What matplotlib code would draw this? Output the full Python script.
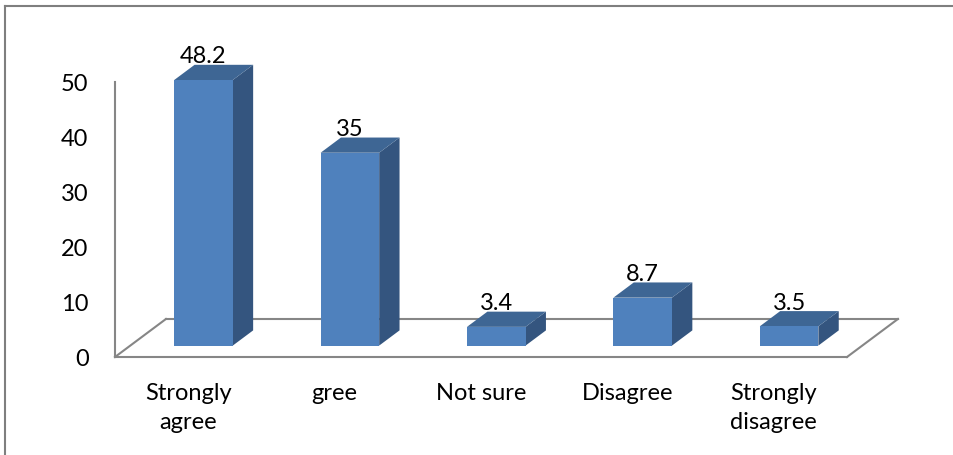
import matplotlib
matplotlib.use("Agg")
import matplotlib.pyplot as plt
from matplotlib.patches import Polygon
from matplotlib.lines import Line2D

categories = ["Strongly\nagree", "gree", "Not sure", "Disagree", "Strongly\ndisagree"]
values = [48.2, 35, 3.4, 8.7, 3.5]
value_labels = ["48.2", "35", "3.4", "8.7", "3.5"]
yticks = [0, 10, 20, 30, 40, 50]

plt.rcParams['font.family'] = ['Lato', 'DejaVu Sans']

front_col = "#4f81bd"
top_col = "#3e6694"
side_col = "#34557f"
grid_col = "#868686"

# depth of the floor in data units (x: categories, y: values)
DX, DY = 0.348, 6.9
bw = 0.4            # bar width (fraction of slot)
d0, d1 = 0.3, 0.7   # bar depth range (fraction of floor depth)

fig = plt.figure(figsize=(9.54, 4.56), dpi=100)
ax = fig.add_axes([115 / 954, 98 / 456, 732 / 954, 275.5 / 456])
ax.set_xlim(-0.5, len(values) - 0.5)
ax.set_ylim(0, 50)
ax.patch.set_visible(False)

# floor: back edge and side edges
n = len(values)
ax.add_line(Line2D([-0.5 + DX, n - 0.5 + DX], [DY, DY], color=grid_col, lw=1.5,
                   clip_on=False, zorder=1))
ax.add_line(Line2D([-0.5, -0.5 + DX], [0, DY], color=grid_col, lw=1.5,
                   clip_on=False, zorder=1))
ax.add_line(Line2D([n - 0.5, n - 0.5 + DX], [0, DY], color=grid_col, lw=1.5,
                   clip_on=False, zorder=1))

for i, v in enumerate(values):
    xl = i - bw / 2 + d0 * DX
    xr = i + bw / 2 + d0 * DX
    y0 = d0 * DY
    y1 = v + d0 * DY
    ddx = (d1 - d0) * DX
    ddy = (d1 - d0) * DY
    side = Polygon([(xr, y0), (xr + ddx, y0 + ddy), (xr + ddx, y1 + ddy), (xr, y1)],
                   closed=True, fc=side_col, ec="none", clip_on=False, zorder=3)
    top = Polygon([(xl, y1), (xr, y1), (xr + ddx, y1 + ddy), (xl + ddx, y1 + ddy)],
                  closed=True, fc=top_col, ec="none", clip_on=False, zorder=3)
    front = Polygon([(xl, y0), (xr, y0), (xr, y1), (xl, y1)],
                    closed=True, fc=front_col, ec="none", clip_on=False, zorder=4)
    for p in (side, top, front):
        ax.add_patch(p)
    ax.text(i + d0 * DX, y1 + ddy - 0.3, value_labels[i], ha="center", va="bottom",
            fontsize=17, color="black", zorder=5)

ax.set_yticks(yticks)
ax.set_xticks(range(n))
ax.set_xticklabels(categories, linespacing=1.5)
ax.tick_params(axis="both", length=0, labelsize=17, colors="black")
ax.tick_params(axis="y", pad=19)
ax.tick_params(axis="x", pad=18)
for s in ("top", "right"):
    ax.spines[s].set_visible(False)
for s in ("left", "bottom"):
    ax.spines[s].set_color(grid_col)
    ax.spines[s].set_linewidth(1.5)

# outer frame (left and top edges)
fig.add_artist(Line2D([5 / 954, 5 / 954], [0, 1 - 7 / 456], transform=fig.transFigure,
                      color="#7f7f7f", lw=1.5))
fig.add_artist(Line2D([5 / 954, 1], [1 - 7 / 456, 1 - 7 / 456], transform=fig.transFigure,
                      color="#7f7f7f", lw=1.5))

fig.savefig("out.png", dpi=100, facecolor="white")
